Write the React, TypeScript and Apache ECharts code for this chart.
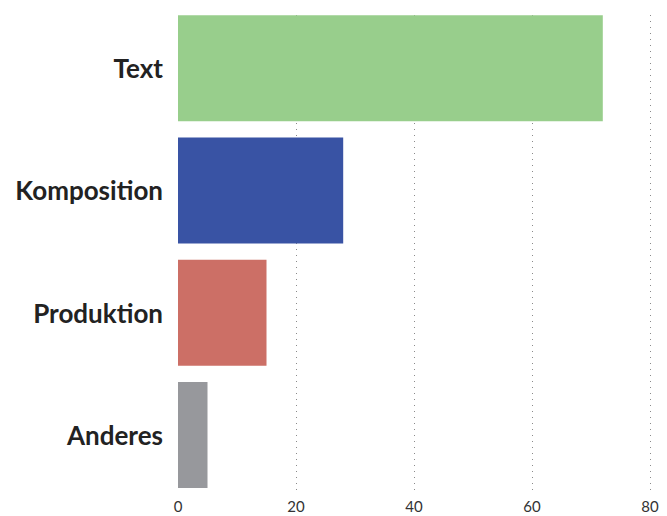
import React, { useEffect, useRef } from "react";
import * as echarts from "echarts";

const categories = ["Text", "Komposition", "Produktion", "Anderes"];
const values = [72, 28, 15, 5];
const colors = ["#98ce8c", "#3953a4", "#cc6f66", "#97989c"];
const xTicks = [0, 20, 40, 60, 80];

export default function App() {
  const ref = useRef<HTMLDivElement>(null);
  useEffect(() => {
    if (!ref.current) return;
    const chart = echarts.init(ref.current, null, { renderer: "svg" });
    chart.setOption({
      animation: false,
      textStyle: { fontFamily: "Lato" },
      grid: [
        { left: 178, right: 17, top: 7, bottom: 20 },
        { left: 178, right: 17, top: 15, bottom: 24 },
      ],
      xAxis: [
        {
          gridIndex: 0,
          type: "value",
          min: xTicks[0],
          max: xTicks[xTicks.length - 1],
          interval: 20,
          axisLine: { show: false },
          axisTick: { show: false },
          axisLabel: { show: false },
          splitLine: { show: false },
        },
        {
          gridIndex: 1,
          type: "value",
          min: xTicks[0],
          max: xTicks[xTicks.length - 1],
          interval: 20,
          axisLine: { show: false },
          axisTick: { show: false },
          axisLabel: {
            show: true,
            margin: 6,
            fontSize: 15,
            color: "#333",
            fontFamily: "Lato",
          },
          splitLine: {
            show: true,
            showMinLine: false,
            lineStyle: { color: "#8a8a8a", width: 1, type: [1, 5] },
          },
        },
      ],
      yAxis: [
        {
          gridIndex: 0,
          type: "category",
          data: categories,
          inverse: true,
          axisLine: { show: false },
          axisTick: { show: false },
          axisLabel: {
            margin: 15,
            fontSize: 26,
            fontWeight: "bold",
            color: "#222",
            fontFamily: "Lato",
            padding: [0, 0, 4, 0],
          },
        },
        {
          gridIndex: 1,
          type: "value",
          show: false,
        },
      ],
      series: [
        {
          type: "bar",
          xAxisIndex: 0,
          yAxisIndex: 0,
          barWidth: 106,
          data: values.map((v, i) => ({ value: v, itemStyle: { color: colors[i] } })),
        },
      ],
    });
    return () => chart.dispose();
  }, []);
  return (
    <div
      ref={ref}
      style={{ position: "absolute", left: 0, top: 0, width: 667, height: 516 }}
    />
  );
}
